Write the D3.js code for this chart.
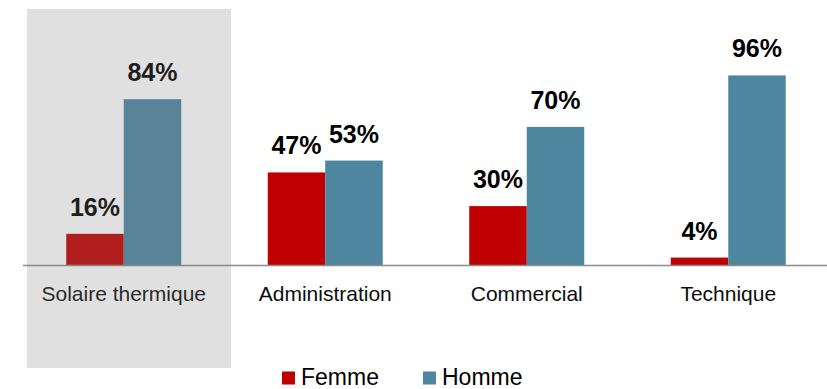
<!DOCTYPE html>
<html>
<head>
<meta charset="utf-8">
<script src="https://cdn.jsdelivr.net/npm/d3@7"></script>
<style>
  html, body { margin: 0; padding: 0; background: #ffffff; }
  svg { display: block; font-family: "Liberation Sans", Arial, sans-serif; }
</style>
</head>
<body>
<svg id="chart" width="827" height="389"></svg>
<script>
// Share of women and men by job category
const categories = ["Solaire thermique", "Administration", "Commercial", "Technique"];
const seriesNames = ["Femme", "Homme"];
const femme = [16, 47, 30, 4];
const homme = [84, 53, 70, 96];
const colors = { Femme: "#c00000", Homme: "#4e86a0" };

const svg = d3.select("#chart");
const W = 827, H = 389;
const x0 = 23, x1 = 829, yBase = 265.5, yTop = 67.5;

const x = d3.scaleBand().domain(categories).range([x0, x1]).paddingInner(0).paddingOuter(0);
const groupWidth = 115;
const xs = d3.scaleBand().domain(seriesNames).range([0, groupWidth]).padding(0);
const y = d3.scaleLinear().domain([0, 100]).range([yBase, yTop]);

const rows = categories.map((c, i) => ({ cat: c, values: [
  { key: "Femme", v: femme[i] },
  { key: "Homme", v: homme[i] }
]}));

const groups = svg.append("g").selectAll("g").data(rows).join("g")
  .attr("transform", d => `translate(${x(d.cat) + x.bandwidth() / 2 - groupWidth / 2},0)`);

groups.selectAll("rect").data(d => d.values).join("rect")
  .attr("x", d => xs(d.key))
  .attr("y", d => y(d.v))
  .attr("width", xs.bandwidth())
  .attr("height", d => y(0) - y(d.v))
  .attr("fill", d => colors[d.key]);

groups.selectAll("text.val").data(d => d.values).join("text")
  .attr("class", "val")
  .attr("x", d => xs(d.key) + xs.bandwidth() / 2)
  .attr("y", d => y(d.v) - 18)
  .attr("text-anchor", "middle")
  .attr("font-size", 25)
  .attr("font-weight", "bold")
  .attr("fill", "#000")
  .text(d => d.v + "%");

// category axis
const axis = d3.axisBottom(x).tickSize(0).tickPadding(0);
const gAxis = svg.append("g").attr("transform", `translate(0,${yBase})`).call(axis);
gAxis.select(".domain").attr("stroke", "#8c8c8c").attr("stroke-width", 1.5)
  .attr("d", `M${x0},0H${W}`);
gAxis.selectAll(".tick text")
  .attr("y", 35)
  .attr("dy", 0)
  .attr("font-size", 21)
  .attr("font-family", "Liberation Sans, Arial, sans-serif")
  .attr("fill", "#0d0d0d");

// highlight band over the first category
svg.append("rect")
  .attr("x", 27).attr("y", 9)
  .attr("width", 231 - 27).attr("height", 368 - 9)
  .attr("fill", "rgb(125,125,125)")
  .attr("fill-opacity", 0.24);

// legend
const legend = svg.append("g");
const legendX = [282, 423];
seriesNames.forEach((s, i) => {
  legend.append("rect")
    .attr("x", legendX[i]).attr("y", 371.5)
    .attr("width", 13).attr("height", 13)
    .attr("fill", colors[s]);
  legend.append("text")
    .attr("x", legendX[i] + 19).attr("y", 385)
    .attr("font-size", 23)
    .attr("fill", "#000")
    .text(s);
});
</script>
</body>
</html>
